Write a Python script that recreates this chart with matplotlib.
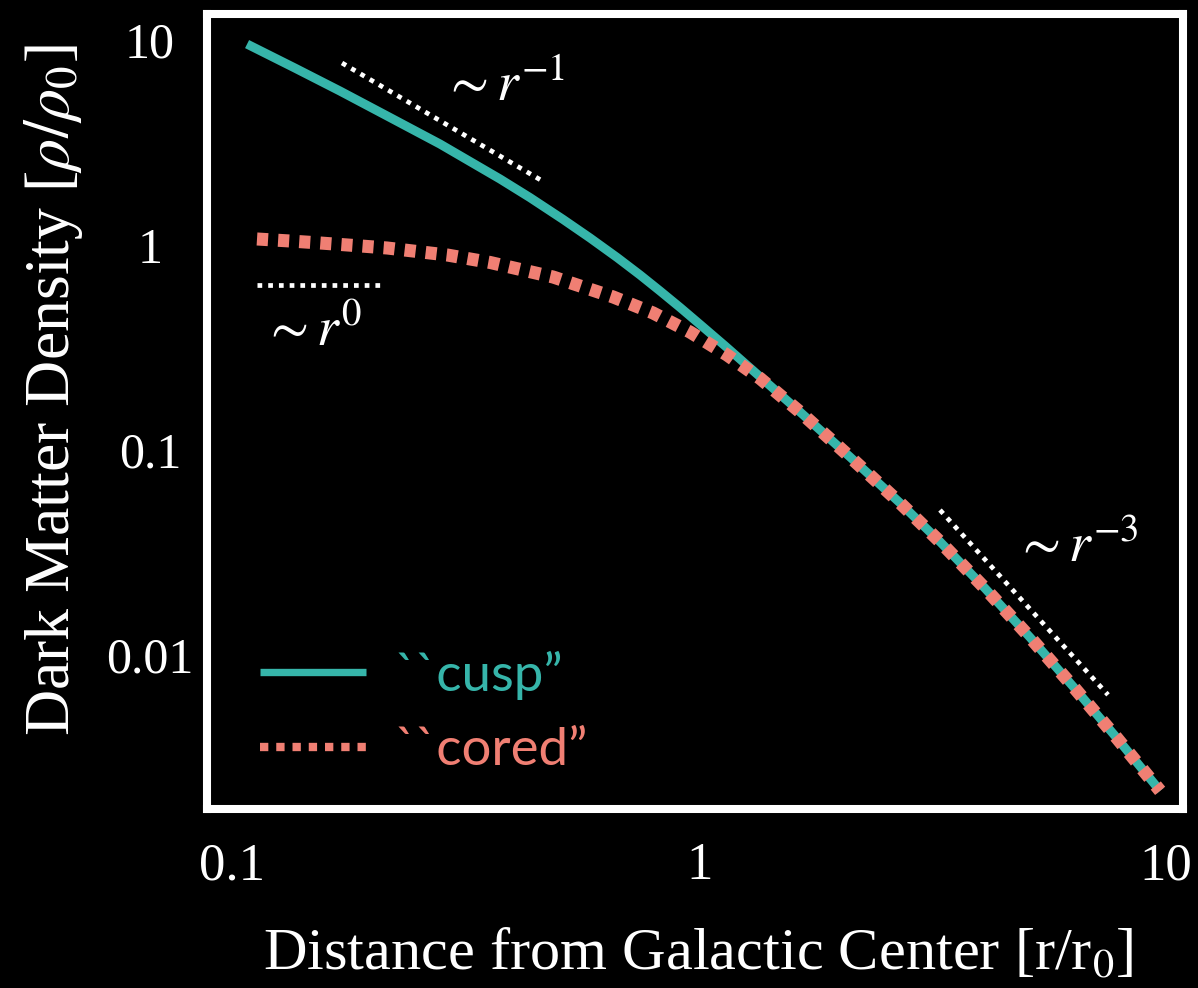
import matplotlib
matplotlib.use('Agg')
import matplotlib.pyplot as plt
from matplotlib.lines import Line2D

# (r / r0, rho / rho0)
cusp_r   = [0.1077, 0.1364, 0.1703, 0.2179, 0.2788, 0.3749, 0.4346, 0.5113, 0.5843, 0.6676,
            0.7476, 0.825, 0.9107, 1.005, 1.137, 1.286, 1.454, 1.645, 2.105, 2.694,
            3.282, 4.097, 5.113, 6.385, 7.857, 9.71]
cusp_rho = [9.56, 7.30, 5.64, 4.19, 3.11, 2.099, 1.703, 1.334, 1.082, 0.869,
            0.714, 0.5964, 0.4956, 0.4094, 0.3216, 0.2512, 0.1962, 0.1532, 0.0924, 0.0551,
            0.0356, 0.0211, 0.01217, 0.00683, 0.00391, 0.00217]

cored_r   = [0.1131, 0.1331, 0.1543, 0.1834, 0.2148, 0.2887, 0.3568, 0.4869, 0.6544, 0.797,
             0.9566, 1.148, 1.351, 1.645, 2.105, 2.694, 3.282, 4.097, 5.113, 6.385,
             7.857, 9.71]
cored_rho = [1.070, 1.046, 1.023, 0.994, 0.967, 0.894, 0.822, 0.698, 0.558, 0.466,
             0.376, 0.2907, 0.2233, 0.1532, 0.0924, 0.0551, 0.0356, 0.0211, 0.01217, 0.00683,
             0.00391, 0.00217]

# slope guides
guide1_r, guide1_rho = [0.172, 0.459], [7.73, 2.07]
guide0_r, guide0_rho = [0.113, 0.212], [0.64, 0.64]
guide3_r, guide3_rho = [3.28, 7.51], [0.0509, 0.00638]

XTICKS = [0.1, 1, 10]
YTICKS = [0.01, 0.1, 1, 10]
XTICKLABELS = ['0.1', '1', '10']
YTICKLABELS = ['0.01', '0.1', '1', '10']

TEAL = '#36b5aa'
SALMON = '#f07f73'

plt.rcParams['font.family'] = ['Liberation Serif', 'DejaVu Serif']
plt.rcParams['mathtext.fontset'] = 'stix'

fig = plt.figure(figsize=(11.98, 9.88), dpi=100, facecolor='black')
ax = fig.add_axes([0.1728, 0.1812, 0.8147, 0.8046], facecolor='black')

ax.plot(cusp_r, cusp_rho, color=TEAL, linewidth=6.5, solid_capstyle='butt',
        solid_joinstyle='round')
ax.plot(cored_r, cored_rho, color=SALMON, linewidth=9.4, linestyle=(0, (0.85, 0.77)))

for gr, grho in [(guide1_r, guide1_rho), (guide0_r, guide0_rho), (guide3_r, guide3_rho)]:
    ax.plot(gr, grho, color='white', linewidth=3.4, linestyle=(0, (1, 1.27)))

ax.text(0.382, 5.9, r'$\sim r^{-1}$', color='white', fontsize=40, ha='center', va='center')
ax.text(0.148, 0.376, r'$\sim r^{0}$', color='white', fontsize=40, ha='center', va='center')
ax.text(6.42, 0.0333, r'$\sim r^{-3}$', color='white', fontsize=40, ha='center', va='center')

ax.set_xscale('log')
ax.set_yscale('log')
ax.set_xlim(0.0884, 10.87)
ax.set_ylim(0.00177, 13.4)
ax.minorticks_off()
ax.set_xticks(XTICKS)
ax.set_xticklabels(XTICKLABELS)
ax.set_yticks(YTICKS)
ax.set_yticklabels(YTICKLABELS, ha='center')
ax.tick_params(axis='both', length=0, colors='white')
ax.tick_params(axis='x', labelsize=38, pad=24)
ax.tick_params(axis='y', labelsize=36, pad=41)

for sp in ax.spines.values():
    sp.set_color('white')
    sp.set_linewidth(5.8)

ax.set_xlabel(r'Distance from Galactic Center [r/r$_0$]', color='white', fontsize=43.5)
ax.set_ylabel(r'Dark Matter Density [$\rho/\rho_0$]', color='white', fontsize=46)
ax.xaxis.set_label_coords(0.503, -0.150)
ax.yaxis.set_label_coords(-0.125, 0.527)

handles = [Line2D([], [], color=TEAL, linewidth=5.3, solid_capstyle='butt'),
           Line2D([], [], color=SALMON, linewidth=6.0, linestyle=(0, (1, 0.95)))]
ax.legend(handles, ['``cusp\u201d', '``cored\u201d'], loc='upper left',
          bbox_to_anchor=(0.0277, 0.2324), borderpad=0, frameon=False,
          prop={'family': 'Lato', 'size': 38}, handlelength=2.0,
          handletextpad=0.55, labelspacing=0.52, labelcolor=[TEAL, SALMON])

fig.savefig('out.png', dpi=100, facecolor='black')
